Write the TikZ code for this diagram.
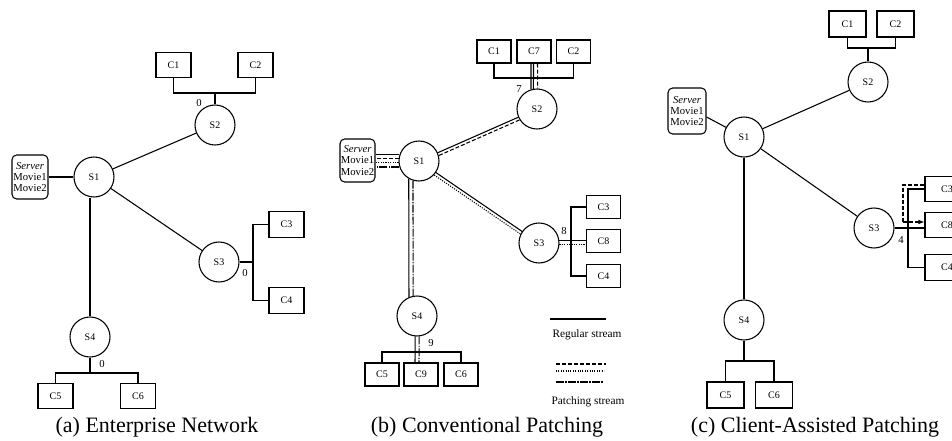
\documentclass[tikz,border=0pt]{standalone}
\usepackage{fontspec}
\setmainfont{Liberation Serif}
\usetikzlibrary{calc,arrows.meta}
\newcommand{\fsz}[1]{\fontsize{#1}{#1}\selectfont}
\begin{document}
\begin{tikzpicture}[x=0.75pt,y=-0.75pt,line width=0.8pt,
  sw/.style={draw,circle,minimum size=30pt,inner sep=0pt,font=\fsz{7.5}},
  clA/.style={draw,rectangle,inner sep=0pt,minimum width=26.25pt,minimum height=19pt,font=\fsz{7.5}},
  clB/.style={draw,rectangle,inner sep=0pt,minimum width=25.5pt,minimum height=17.25pt,font=\fsz{7.5}},
  clC/.style={draw,rectangle,inner sep=0pt,minimum width=27.75pt,minimum height=19.5pt,font=\fsz{7.5}},
  clW/.style={draw,rectangle,inner sep=0pt,minimum width=33pt,minimum height=19pt,font=\fsz{7.5}},
  srv/.style={draw,rounded corners=3.5pt,align=center,inner sep=0.5pt,font=\fontsize{8}{8.6}\selectfont},
  lab/.style={inner sep=0pt,font=\fsz{8}},
  captxt/.style={inner sep=0pt,font=\fsz{16.5}},
  leg/.style={inner sep=0pt,font=\fsz{8.5}},
  pdash/.style={dash pattern=on 3pt off 1.5pt},
  pdot/.style={dash pattern=on 0.8pt off 1pt},
  pdashdot/.style={dash pattern=on 6pt off 1pt on 1pt off 1pt}]
\useasboundingbox (0,0) rectangle (952,441);

% ---------------- (a) ----------------
\node[srv,minimum width=27pt,minimum height=33pt] (aSrv) at (30,177) {\textit{Server}\\Movie1\\Movie2};
\node[sw] (aS1) at (94,177) {S1};
\node[sw] (aS2) at (215,125) {S2};
\node[sw] (aS3) at (219,262) {S3};
\node[sw] (aS4) at (90,337) {S4};
\node[clA] (aC1) at (173.5,65) {C1};
\node[clA] (aC2) at (255.5,65) {C2};
\node[clA] (aC3) at (286.5,224.5) {C3};
\node[clA] (aC4) at (286.5,300.5) {C4};
\node[clA] (aC5) at (55.5,396) {C5};
\node[clA] (aC6) at (138,396) {C6};
\coordinate (aJ2) at (215,93);
\draw (aC1.south) |- (aJ2) -| (aC2.south);
\draw (aJ2) -- (aS2);
\draw (aSrv) -- (aS1);
\draw (aS1) -- (aS2);
\draw (aS1) -- (aS3);
\draw (aS4.north) -- (aS4.north |- aS1.south);
\coordinate (aJ3) at (253,262);
\draw (aS3) -- (aJ3);
\draw (aC3.west) -| (aJ3) |- (aC4.west);
\coordinate (aJ4) at (90,373);
\draw (aS4) -- (aJ4);
\draw (aC5.north) |- (aJ4) -| (aC6.north);
\node[lab] (aL1) at (199,103) {0};
\node[lab] (aL2) at (245,273) {0};
\node[lab] (aL3) at (102,364) {0};
\node[captxt] (aCap) at (157,427) {(a) Enterprise Network};

% ---------------- (b) ----------------
\node[srv,minimum width=26.25pt,minimum height=32.25pt] (bSrv) at (357.5,160.5) {\textit{Server}\\Movie1\\Movie2};
\node[sw] (bS1) at (419,161) {S1};
\node[sw] (bS2) at (537,109) {S2};
\node[sw] (bS3) at (539,243) {S3};
\node[sw] (bS4) at (417,316) {S4};
\node[clB] (bC1) at (494,51.5) {C1};
\node[clB] (bC7) at (534,51.5) {C7};
\node[clB] (bC2) at (573.5,51.5) {C2};
\node[clB] (bC3) at (603.5,207) {C3};
\node[clB] (bC8) at (603.5,241) {C8};
\node[clB] (bC4) at (603.5,276) {C4};
\node[clB] (bC5) at (382,374.5) {C5};
\node[clB] (bC9) at (421,374.5) {C9};
\node[clB] (bC6) at (461,374.5) {C6};
% top bracket
\coordinate (bJ2) at (531,78);
\draw (bC1.south) |- (bJ2) -| (bC2.south);
\draw ($(bC7.south)+(-3,0)$) -- (bS2.107.5);
\draw ($(bC7.south)+(-0.5,0)$) -- (bS2.100);
\draw[pdash] ($(bC7.south)+(3.5,0)$) -- (bS2.88.6);
\node[lab] (bL1) at (519,89) {7};
% server to S1
\draw (bS1.162.5) -- (bS1.162.5 -| bSrv.east);
\draw[pdash] (bS1.174.3) -- (bS1.174.3 -| bSrv.east);
\draw[pdot] (bS1.185.7) -- (bS1.185.7 -| bSrv.east);
\draw[pdashdot] (bS1.197.5) -- (bS1.197.5 -| bSrv.east);
% S1-S2, S1-S3
\draw (bS1) -- (bS2);
\draw[pdash,transform canvas={shift={(1.2,2.7)}}] (bS1) -- (bS2);
\draw (bS1) -- (bS3);
\draw[pdot,transform canvas={shift={(-1.7,2.5)}}] (bS1) -- (bS3);
% S1-S4
\draw (bS1.-120) -- (bS4.113.6);
\draw[pdashdot] (bS1.-107.5) -- (bS4.101.5);
% S3 side
\draw (bS3.8.6) -- (bS3.8.6 -| bC8.west);
\draw[pdot] (bS3.-5.7) -- (bS3.-5.7 -| bC8.west);
\coordinate (bJ3) at (571,240);
\draw (bC3.west) -| (bJ3) |- (bC4.west);
\node[lab] (bL2) at (564,231) {8};
% S4 side
\draw (bS4.-95.7) -- ($(bC9.north)+(-6,0)$);
\draw[pdashdot] (bS4.-84.3) -- ($(bC9.north)+(-2,0)$);
\coordinate (bJ4) at (415,352);
\draw (bC5.north) |- (bJ4) -| (bC6.north);
\node[lab] (bL3) at (431,343) {9};
% legend
\coordinate (bG1) at (550,319); \coordinate (bG2) at (606,319);
\draw (bG1) -- (bG2);
\node[leg] (bGt1) at (587,335) {Regular stream};
\coordinate (bG3) at (556,364); \coordinate (bG4) at (606,364);
\draw[pdash] (bG3) -- (bG4);
\coordinate (bG5) at (556,371); \coordinate (bG6) at (604,371);
\draw[pdot] (bG5) -- (bG6);
\coordinate (bG7) at (556,382); \coordinate (bG8) at (604,382);
\draw[pdashdot] (bG7) -- (bG8);
\node[leg] (bGt2) at (588,402) {Patching stream};
\node[captxt] (bCap) at (487,427) {(b) Conventional Patching};

% ---------------- (c) ----------------
\node[srv,minimum width=28.5pt,minimum height=34.5pt] (cSrv) at (687,111) {\textit{Server}\\Movie1\\Movie2};
\node[sw] (cS1) at (744,137) {S1};
\node[sw] (cS2) at (868,82) {S2};
\node[sw] (cS3) at (874,228) {S3};
\node[sw] (cS4) at (744,320) {S4};
\node[clC] (cC1) at (847.5,24) {C1};
\node[clC] (cC2) at (895.5,24) {C2};
\node[clW] (cC3) at (947,189) {C3};
\node[clW] (cC8) at (947,225) {C8};
\node[clW] (cC4) at (947,267.5) {C4};
\node[clC] (cC5) at (725.5,395) {C5};
\node[clC] (cC6) at (774,395) {C6};
\coordinate (cJ2) at (868,48);
\draw (cC1.south) |- (cJ2) -| (cC2.south);
\draw (cJ2) -- (cS2);
\draw (cSrv.-17) -- (cS1);
\draw (cS1) -- (cS2);
\draw (cS1) -- (cS3);
\draw (cS1) -- (cS4);
\coordinate (cJ3) at (908,228);
\draw (cS3.east) -- (cS3.east -| cC8.west);
\draw (cC3.west) -| (cJ3) |- (cC4.west);
\coordinate (cK1) at (903,185);
\coordinate (cK2) at (903,222);
\draw[pdash] (cC3.west |- cK1) -- (cK1) -- (cK2);
\draw[pdash,-{Latex[length=4.5pt,width=3.5pt]}] (cK2) -- (cK2 -| cC8.west);
\node[lab] (cL1) at (901,240) {4};
\coordinate (cJ4) at (744,361);
\draw (cS4) -- (cJ4);
\draw (cC5.north) |- (cJ4) -| (cC6.north);
\node[captxt] (cCap) at (815,427) {(c) Client-Assisted Patching};
\end{tikzpicture}
\end{document}
